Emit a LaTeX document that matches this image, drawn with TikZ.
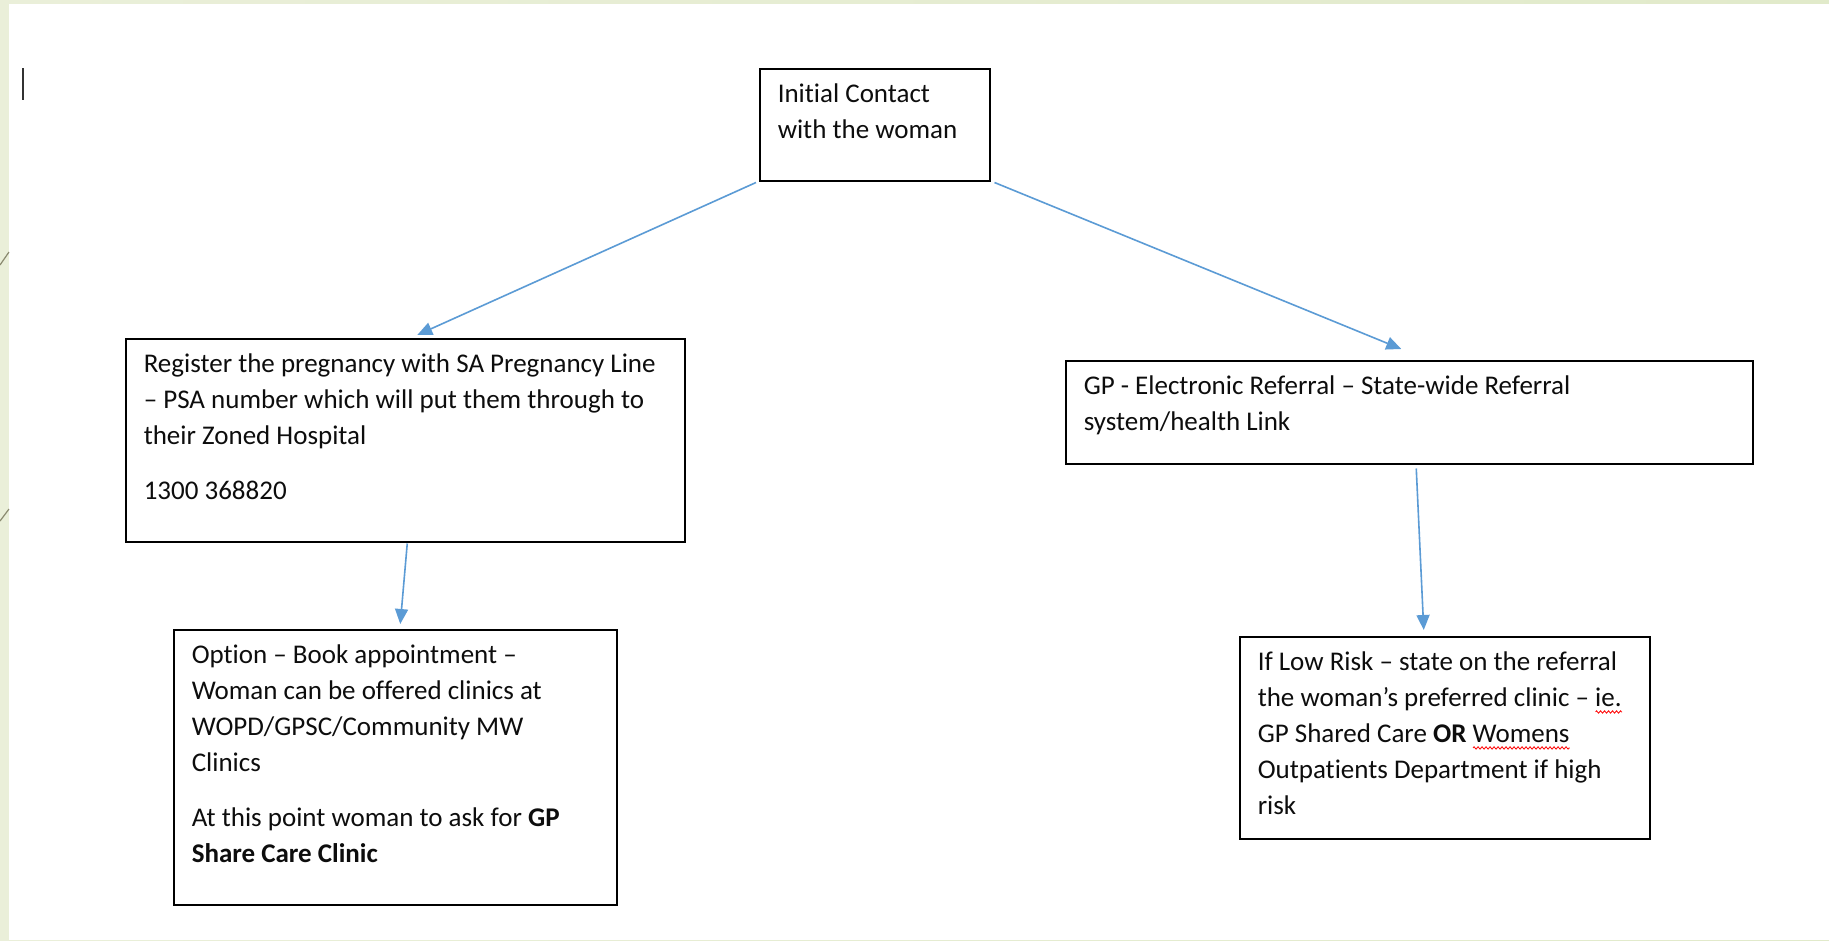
\documentclass[tikz,border=0pt]{standalone}
\usepackage{fontspec}
\setmainfont{Carlito}[Ligatures={NoCommon}]
\usetikzlibrary{arrows.meta,calc,decorations.pathmorphing}

\definecolor{arrowblue}{HTML}{5B9BD5}
\definecolor{slidegreen}{HTML}{EAEFD9}
\definecolor{slidegreendark}{HTML}{E1EACA}
\definecolor{strokegray}{HTML}{8A8A70}

\newcommand{\boxfont}{\fontsize{27pt}{36pt}\selectfont}
\newcommand{\boxtext}[3]{\parbox[t][\dimexpr#2pt-18pt\relax][t]{\dimexpr#1pt-36pt\relax}{\boxfont\setlength{\parskip}{19pt}\raggedright\strut #3}}
\newlength{\wavelen}
\newcommand{\spellwave}[1]{\settowidth{\wavelen}{#1}\rlap{\tikz[baseline=0pt]\draw[red, line width=0.8pt, decorate, decoration={zigzag, amplitude=1.2pt, segment length=4pt}] (0pt,-5pt) -- (\wavelen,-5pt);}#1}

\tikzset{
  flowbox/.style={draw, line width=1.5pt, anchor=north west, inner xsep=18pt, inner ysep=9pt, text=black!95},
  flowarrow/.style={arrowblue, line width=1.6pt, -{Triangle[length=15pt,width=13pt]}}
}

\begin{document}
\begin{tikzpicture}[x=1pt,y=-1pt]
    % Slide background
    \useasboundingbox (0,0) rectangle (1829,940);
    \shade[left color=slidegreen, right color=slidegreendark] (0,0) rectangle (1829,940);
    \fill[white] (9,4) rectangle (1829,940);
    \draw[strokegray, line width=1.2pt] (0,265) -- (9,252);
    \draw[strokegray, line width=1.2pt] (0,521) -- (9,509);
    \draw[black!80, line width=2pt] (23,68) -- (23,100);

    % Boxes
    \node[flowbox] (contact) at (759,68) {\boxtext{230}{112}{Initial Contact\\ with the woman}};
    \node[flowbox] (register) at (125,338) {\boxtext{559}{203}{Register the pregnancy with SA Pregnancy Line\\ – PSA number which will put them through to\\ their Zoned Hospital\par 1300 368820}};
    \node[flowbox] (referral) at (1065,360) {\boxtext{687}{103}{GP - Electronic Referral – State-wide Referral\\ system/health Link}};
    \node[flowbox] (option) at (173,629) {\boxtext{443}{275}{Option – Book appointment –\\ Woman can be offered clinics at\\ WOPD/GPSC/Community MW\\ Clinics\par At this point woman to ask for \textbf{GP}\\ \textbf{Share Care Clinic}}};
    \node[flowbox] (lowrisk) at (1239,636) {\boxtext{410}{202}{If Low Risk – state on the referral\\ the woman’s preferred clinic – \spellwave{ie.}\\ GP Shared Care \textbf{OR} \spellwave{Womens}\\ Outpatients Department if high\\ risk}};

    % Arrows
    \draw[flowarrow] ([shift={(-3,1)}]contact.south west) -- ([shift={(12,-3)}]register.north);
    \draw[flowarrow] ([shift={(4,1)}]contact.south east) -- ([shift={(-8,-11)}]referral.north);
    \draw[flowarrow] ([shift={(2,1)}]register.south) -- ([shift={(5,-5)}]option.north);
    \draw[flowarrow] ([shift={(7,4)}]referral.south) -- ([shift={(-21,-6)}]lowrisk.north);
\end{tikzpicture}
\end{document}
